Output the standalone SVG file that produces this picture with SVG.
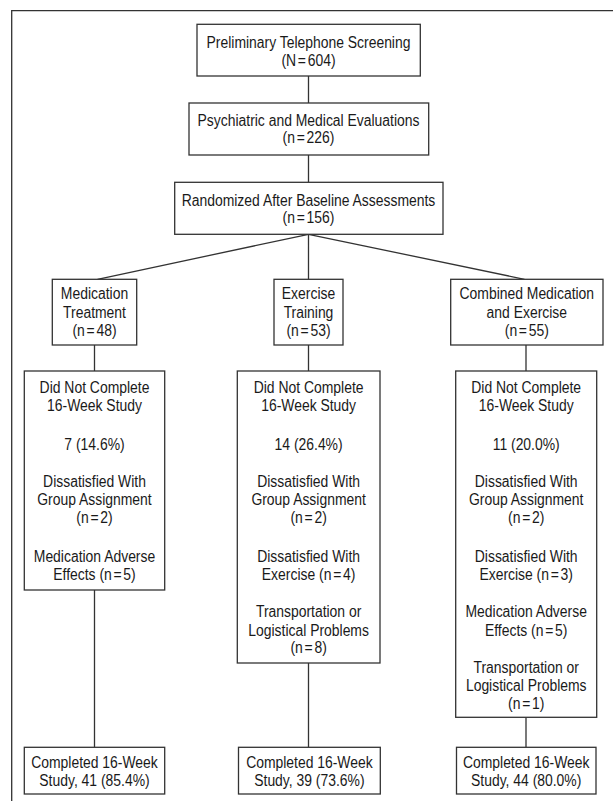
<svg xmlns="http://www.w3.org/2000/svg" width="613" height="801" viewBox="0 0 613 801">
<style>
.bx{fill:#fff;stroke:#333;stroke-width:1.3}
.ln{fill:none;stroke:#333;stroke-width:1.3}
.t{font-family:"Liberation Sans",Arial,sans-serif;font-size:16px;fill:#1a1a1a;text-anchor:middle}
</style>
<rect x="0" y="0" width="613" height="801" fill="#fff"/>
<path class="ln" d="M11.7 801V10.7H613"/>
<g id="connectors">
<path class="ln" d="M308.5 76V103M308.5 155V182.3M308.5 234.3L97.5 279.3M308.5 234.3V279.3M308.5 234.3L524.5 279.3M94.5 345V371M308.5 345V371M526 345V371M94.5 590V747.3M308.5 663V747.3M526 717.3V747.3"/>
</g>
<g id="screening">
<rect class="bx" x="197" y="24.3" width="223.3" height="51.7"/>
<text class="t" transform="matrix(0.87 0 0 1 308.5 0)"><tspan x="0" y="48.3">Preliminary Telephone Screening</tspan><tspan x="0" y="65.7">(N<tspan dx="2">=</tspan><tspan dx="2">604)</tspan></tspan></text>
</g>
<g id="evaluations">
<rect class="bx" x="189" y="103" width="239.7" height="52"/>
<text class="t" transform="matrix(0.87 0 0 1 308.5 0)"><tspan x="0" y="125.7">Psychiatric and Medical Evaluations</tspan><tspan x="0" y="143.3">(n<tspan dx="2">=</tspan><tspan dx="2">226)</tspan></tspan></text>
</g>
<g id="randomized">
<rect class="bx" x="174.7" y="182.3" width="268.3" height="52"/>
<text class="t" transform="matrix(0.87 0 0 1 308.5 0)"><tspan x="0" y="205.7">Randomized After Baseline Assessments</tspan><tspan x="0" y="223.3">(n<tspan dx="2">=</tspan><tspan dx="2">156)</tspan></tspan></text>
</g>
<g id="medication">
<rect class="bx" x="52.3" y="279.3" width="84.4" height="65.7"/>
<text class="t" transform="matrix(0.87 0 0 1 94.5 0)"><tspan x="0" y="299.3">Medication</tspan><tspan x="0" y="317.7">Treatment</tspan><tspan x="0" y="335.7">(n<tspan dx="2">=</tspan><tspan dx="2">48)</tspan></tspan></text>
</g>
<g id="exercise">
<rect class="bx" x="274" y="279.3" width="69" height="65.7"/>
<text class="t" transform="matrix(0.87 0 0 1 308.5 0)"><tspan x="0" y="299.3">Exercise</tspan><tspan x="0" y="317.7">Training</tspan><tspan x="0" y="335.7">(n<tspan dx="2">=</tspan><tspan dx="2">53)</tspan></tspan></text>
</g>
<g id="combined">
<rect class="bx" x="450.7" y="279.3" width="152.3" height="65.7"/>
<text class="t" transform="matrix(0.87 0 0 1 526.8 0)"><tspan x="0" y="299.3">Combined Medication</tspan><tspan x="0" y="317.7">and Exercise</tspan><tspan x="0" y="335.7">(n<tspan dx="2">=</tspan><tspan dx="2">55)</tspan></tspan></text>
</g>
<g id="med-dropout">
<rect class="bx" x="24.3" y="371" width="140.4" height="219"/>
<text class="t" transform="matrix(0.87 0 0 1 94.5 0)"><tspan x="0" y="392.7">Did Not Complete</tspan><tspan x="0" y="411">16-Week Study</tspan><tspan x="0" y="450">7 (14.6%)</tspan><tspan x="0" y="486.7">Dissatisfied With</tspan><tspan x="0" y="505">Group Assignment</tspan><tspan x="0" y="522.7">(n<tspan dx="2">=</tspan><tspan dx="2">2)</tspan></tspan><tspan x="0" y="561.7">Medication Adverse</tspan><tspan x="0" y="580">Effects (n<tspan dx="2">=</tspan><tspan dx="2">5)</tspan></tspan></text>
</g>
<g id="ex-dropout">
<rect class="bx" x="237.3" y="371" width="142.7" height="292"/>
<text class="t" transform="matrix(0.87 0 0 1 308.6 0)"><tspan x="0" y="392.7">Did Not Complete</tspan><tspan x="0" y="411">16-Week Study</tspan><tspan x="0" y="450">14 (26.4%)</tspan><tspan x="0" y="486.7">Dissatisfied With</tspan><tspan x="0" y="505">Group Assignment</tspan><tspan x="0" y="522.7">(n<tspan dx="2">=</tspan><tspan dx="2">2)</tspan></tspan><tspan x="0" y="561.7">Dissatisfied With</tspan><tspan x="0" y="580">Exercise (n<tspan dx="2">=</tspan><tspan dx="2">4)</tspan></tspan><tspan x="0" y="617.3">Transportation or</tspan><tspan x="0" y="635.7">Logistical Problems</tspan><tspan x="0" y="653.3">(n<tspan dx="2">=</tspan><tspan dx="2">8)</tspan></tspan></text>
</g>
<g id="comb-dropout">
<rect class="bx" x="455.7" y="371" width="141" height="346.3"/>
<text class="t" transform="matrix(0.87 0 0 1 526.2 0)"><tspan x="0" y="392.7">Did Not Complete</tspan><tspan x="0" y="411">16-Week Study</tspan><tspan x="0" y="450">11 (20.0%)</tspan><tspan x="0" y="486.7">Dissatisfied With</tspan><tspan x="0" y="505">Group Assignment</tspan><tspan x="0" y="522.7">(n<tspan dx="2">=</tspan><tspan dx="2">2)</tspan></tspan><tspan x="0" y="561.7">Dissatisfied With</tspan><tspan x="0" y="580">Exercise (n<tspan dx="2">=</tspan><tspan dx="2">3)</tspan></tspan><tspan x="0" y="617.3">Medication Adverse</tspan><tspan x="0" y="635.7">Effects (n<tspan dx="2">=</tspan><tspan dx="2">5)</tspan></tspan><tspan x="0" y="672.7">Transportation or</tspan><tspan x="0" y="691">Logistical Problems</tspan><tspan x="0" y="709">(n<tspan dx="2">=</tspan><tspan dx="2">1)</tspan></tspan></text>
</g>
<g id="med-completed">
<rect class="bx" x="24.3" y="747.3" width="140.4" height="46.7"/>
<text class="t" transform="matrix(0.87 0 0 1 94.5 0)"><tspan x="0" y="767.7">Completed 16-Week</tspan><tspan x="0" y="786">Study, 41 (85.4%)</tspan></text>
</g>
<g id="ex-completed">
<rect class="bx" x="238.5" y="747.3" width="141.8" height="46.7"/>
<text class="t" transform="matrix(0.87 0 0 1 309.4 0)"><tspan x="0" y="767.7">Completed 16-Week</tspan><tspan x="0" y="786">Study, 39 (73.6%)</tspan></text>
</g>
<g id="comb-completed">
<rect class="bx" x="456.5" y="747.3" width="139.5" height="46.7"/>
<text class="t" transform="matrix(0.87 0 0 1 526.2 0)"><tspan x="0" y="767.7">Completed 16-Week</tspan><tspan x="0" y="786">Study, 44 (80.0%)</tspan></text>
</g>
</svg>
